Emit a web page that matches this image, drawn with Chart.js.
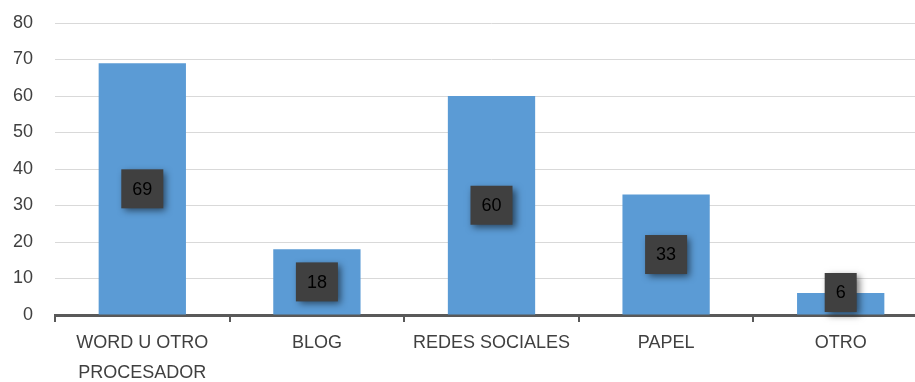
<!DOCTYPE html>
<html>
<head>
<meta charset="utf-8">
<script src="https://cdn.jsdelivr.net/npm/chart.js@4"></script>
<style>
  html, body { margin: 0; padding: 0; background: #fff; overflow: hidden; }
  #wrap { width: 928px; height: 382px; }
</style>
</head>
<body>
<div id="wrap"><canvas id="chart" width="928" height="382"></canvas></div>
<script>
const categories = [["WORD U OTRO", "PROCESADOR"], "BLOG", "REDES SOCIALES", "PAPEL", "OTRO"];
const values = [69, 18, 60, 33, 6];
const yTicks = [0, 10, 20, 30, 40, 50, 60, 70, 80];

const FONT = "'Liberation Sans Narrow', 'Liberation Sans', Arial, sans-serif";

// dark boxed value labels in the middle of each bar
const boxLabels = {
  id: "boxLabels",
  afterDatasetsDraw(chart) {
    const ctx = chart.ctx;
    const meta = chart.getDatasetMeta(0);
    const base = chart.scales.y.getPixelForValue(0);
    ctx.save();
    ctx.font = "18px " + FONT;
    meta.data.forEach((bar, i) => {
      const txt = String(values[i]);
      const w = ctx.measureText(txt).width + 22;
      const h = 39;
      let cy = (bar.y + bar.base) / 2;
      if (cy + h / 2 > base - 3) cy = base - 3 - h / 2;
      const x0 = bar.x - w / 2, y0 = cy - h / 2;
      ctx.shadowColor = "rgba(0,0,0,0.55)";
      ctx.shadowBlur = 7;
      ctx.shadowOffsetX = 3;
      ctx.shadowOffsetY = 3;
      ctx.fillStyle = "#404040";
      ctx.fillRect(x0, y0, w, h);
      ctx.shadowColor = "transparent";
      ctx.fillStyle = "#000";
      ctx.textAlign = "center";
      ctx.textBaseline = "middle";
      ctx.fillText(txt, bar.x, cy + 1);
    });
    ctx.restore();
  }
};

new Chart(document.getElementById("chart"), {
  type: "bar",
  data: {
    labels: categories,
    datasets: [{
      data: values,
      backgroundColor: "#5b9bd5",
      categoryPercentage: 1,
      barPercentage: 0.5
    }]
  },
  options: {
    responsive: false,
    animation: false,
    layout: { padding: { top: 23, left: 0, right: 0, bottom: 0 } },
    plugins: { legend: { display: false }, tooltip: { enabled: false } },
    scales: {
      x: {
        offset: true,
        grid: { offset: true, drawOnChartArea: false, color: "#595959", lineWidth: 2, tickLength: 7 },
        border: { color: "#595959", width: 3 },
        ticks: { color: "#404040", font: { family: FONT, size: 18, lineHeight: 1.65 }, padding: 6, maxRotation: 0, autoSkip: false },
        afterFit(s) { s.height = 67; }
      },
      y: {
        min: 0, max: 80,
        afterBuildTicks(s) { s.ticks = yTicks.map(v => ({ value: v })); },
        grid: { color: "#d9d9d9", lineWidth: 1, drawTicks: false },
        border: { display: false },
        ticks: { color: "#404040", font: { family: FONT, size: 18 }, padding: 22 },
        afterFit(s) { s.width = 55; s.paddingTop = 0; s.paddingBottom = 0; }
      }
    }
  },
  plugins: [boxLabels]
});
</script>
</body>
</html>
